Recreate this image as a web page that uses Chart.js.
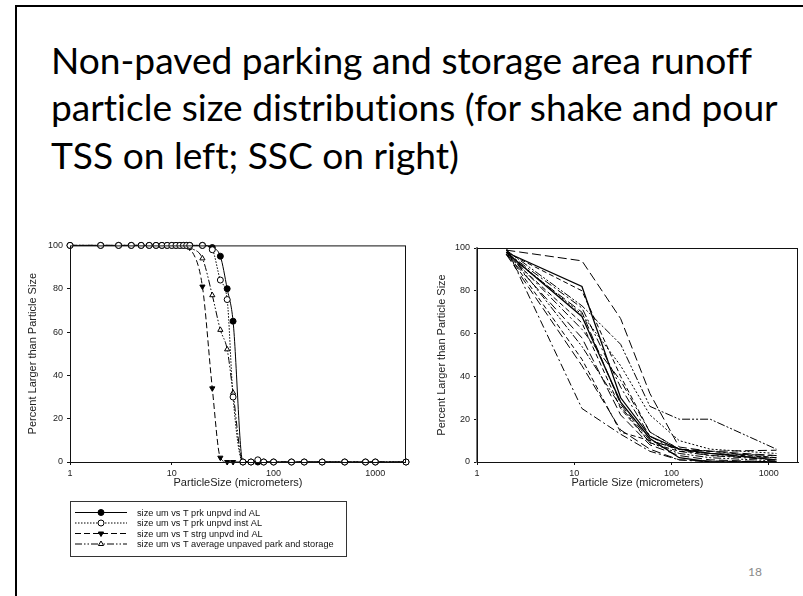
<!DOCTYPE html>
<html>
<head>
<meta charset="utf-8">
<script src="https://cdn.jsdelivr.net/npm/chart.js@4.4.0/dist/chart.umd.min.js"></script>
<style>
  html, body { margin: 0; padding: 0; background: #fff; }
  body { width: 803px; height: 596px; position: relative; overflow: hidden; }
  #frame { position: absolute; left: 15px; top: 5px; width: 800px; height: 600px;
           border-left: 2px solid #000; border-top: 2px solid #000; }
  .tl { position: absolute; left: 51px; white-space: nowrap; color: #000;
        font-family: Lato, "Open Sans", sans-serif; line-height: 1.2;
        font-variant-ligatures: none; }
  #leftWrap { position: absolute; left: 20px; top: 236px; width: 392px; height: 324px; }
  #rightWrap { position: absolute; left: 430px; top: 236px; width: 373px; height: 258px; }
  #slideNum { position: absolute; left: 748px; top: 565px; font-family: Lato, sans-serif;
              font-size: 12px; line-height: 1.2; color: #8a8a8a; }
</style>
</head>
<body>
<div id="frame"></div>
<div id="title"></div>
<div id="leftWrap"><canvas id="chartLeft"></canvas></div>
<div id="rightWrap"><canvas id="chartRight"></canvas></div>
<div id="slideNum">18</div>
<script>
  const titleLines = [
    "Non-paved parking and storage area runoff",
    "particle size distributions (for shake and pour",
    "TSS on left; SSC on right)",
  ];

  // left chart: TSS (shake and pour)
  const leftSizes = [1, 2, 3, 4, 5, 6, 7, 8, 9, 10, 11, 12, 13, 14, 15, 20, 25, 30, 35, 40,
    50, 60, 70, 80, 100, 150, 200, 300, 500, 800, 1000, 2000];
  const prkIndAL = [100, 100, 100, 100, 100, 100, 100, 100, 100, 100, 100, 100, 100, 100, 100, 100,
    99, 95, 80, 65, 0, 0, 0, 0, 0, 0, 0, 0, 0, 0, 0, 0];
  const prkInstAL = [100, 100, 100, 100, 100, 100, 100, 100, 100, 100, 100, 100, 100, 100, 100, 100,
    98, 84, 75, 30, 0, 0, 1, 0, 0, 0, 0, 0, 0, 0, 0, 0];
  const strgIndAL = [100, 100, 100, 100, 100, 100, 100, 100, 100, 100, 100, 100, 100, 100, 99, 81,
    34, 2, 0, 0, 0, 0, 0, 0, 0, 0, 0, 0, 0, 0, 0, 0];
  const avgUnpaved = [100, 100, 100, 100, 100, 100, 100, 100, 100, 100, 100, 100, 100, 100, 99, 94,
    77, 61, 52, 32, 0, 0, 0, 0, 0, 0, 0, 0, 0, 0, 0, 0];
  const leftLabels = [
    "size um vs T prk unpvd ind AL",
    "size um vs T prk unpvd inst AL",
    "size um vs T strg unpvd ind AL",
    "size um vs T average unpaved park and storage",
  ];

  // right chart: SSC
  const rightSizes = [2, 12, 30, 60, 120, 250, 1200];
  const ssc01 = [99, 94, 67, 32, 7, 5, 3];
  const ssc02 = [98, 82, 30, 12, 6, 4, 1];
  const ssc03 = [98, 80, 40, 14, 6, 5, 2];
  const ssc04 = [99, 73, 55, 26, 20, 20, 6];
  const ssc05 = [98, 72, 35, 12, 5, 3, 2];
  const ssc06 = [97, 70, 27, 10, 6, 5, 5.5];
  const ssc07 = [98, 69, 45, 22, 10, 6, 4];
  const ssc08 = [98, 68, 28, 11, 2, 0, 0];
  const ssc09 = [97, 65, 25, 9, 5, 4, 3];
  const ssc10 = [98, 62, 38, 14, 6, 3, 1];
  const ssc11 = [97, 58, 22, 8, 3, 1, 0];
  const ssc12 = [99, 54, 26, 9, 4, 2, 0.5];
  const ssc13 = [98, 48, 14, 10, 6, 4, 2];
  const ssc14 = [97, 45, 15, 6, 1, 0.5, 0];
  const ssc15 = [100, 25, 13, 5, 1, 0, 0];

  const decades = [1, 10, 100, 1000];
  const yTicks = [0, 20, 40, 60, 80, 100];

  // title, sized so the second line fills the same width as on the slide
  const mctx = document.createElement("canvas").getContext("2d");
  mctx.font = "100px Lato";
  const titleSize = (100 * 729) / mctx.measureText(titleLines[1]).width;
  titleLines.forEach((t, i) => {
    const d = document.createElement("div");
    d.className = "tl";
    d.textContent = t;
    d.style.fontSize = titleSize + "px";
    d.style.top = (78 + i * 47.5 - 1.087 * titleSize) + "px";
    document.getElementById("title").appendChild(d);
  });

  const tickFont = { family: "'Liberation Sans', Arial, sans-serif", size: 9 };
  const titleFont = { family: "'Liberation Sans', Arial, sans-serif", size: 11 };

  const boxFrame = {
    id: "boxFrame",
    afterDraw(chart) {
      const { ctx, chartArea: a } = chart;
      ctx.save();
      ctx.strokeStyle = "#111";
      ctx.lineWidth = 1;
      ctx.strokeRect(a.left + 0.5, a.top + 0.5, a.right - a.left - 1, a.bottom - a.top);
      ctx.restore();
    },
  };

  const legendBox = {
    id: "legendBox",
    afterDraw(chart) {
      const { ctx, chartArea: a } = chart;
      const x0 = a.left, y0 = a.bottom + 39;
      ctx.save();
      ctx.strokeStyle = "#333";
      ctx.lineWidth = 1;
      ctx.strokeRect(x0 + 0.5, y0 + 0.5, 276, 55);
      ctx.font = "9.2px 'Liberation Sans', Arial, sans-serif";
      ctx.textBaseline = "middle";
      chart.data.datasets.forEach((ds, i) => {
        const y = y0 + 11.5 + i * 10.5;
        ctx.strokeStyle = "#000";
        ctx.setLineDash(ds.borderDash || []);
        ctx.beginPath();
        ctx.moveTo(x0 + 5, y);
        ctx.lineTo(x0 + 57, y);
        ctx.stroke();
        ctx.setLineDash([]);
        ctx.fillStyle = ds.pointBackgroundColor;
        Chart.helpers.drawPoint(ctx, {
          pointStyle: ds.pointStyle, radius: 3, rotation: ds.pointRotation || 0, borderWidth: 1,
        }, x0 + 31, y);
        ctx.fillStyle = "#111";
        ctx.fillText(ds.label, x0 + 67, y + 0.5);
      });
      ctx.restore();
    },
  };

  function logAxis(titleText, h) {
    return {
      type: "logarithmic",
      min: 1,
      max: 2000,
      afterBuildTicks: (s) => { s.ticks = decades.map((v) => ({ value: v })); },
      afterFit: (s) => { s.height = h; },
      ticks: { callback: (v) => String(v), font: tickFont, color: "#222", padding: 3,
               maxRotation: 0, autoSkip: false },
      grid: { drawOnChartArea: false, tickLength: 3, color: "#111" },
      border: { color: "#111" },
      title: { display: true, text: titleText, font: titleFont, color: "#222",
               padding: { top: 0, bottom: 4 } },
    };
  }

  function pctAxis(w, pad, borderColor, borderWidth) {
    return {
      min: 0,
      max: 100,
      afterBuildTicks: (s) => { s.ticks = yTicks.map((v) => ({ value: v })); },
      afterFit: (s) => { s.width = w; },
      ticks: { font: tickFont, color: "#222", padding: 4 },
      grid: { drawOnChartArea: false, tickLength: 3, color: "#111" },
      border: { color: borderColor, width: borderWidth },
      title: { display: true, text: "Percent Larger than Particle Size", font: titleFont,
               color: "#222", padding: { top: pad, bottom: 0 } },
    };
  }

  const toXY = (xs, ys) => xs.map((x, i) => ({ x: x, y: ys[i] }));

  // open markers are drawn on top of the filled ones
  const leftSeries = [
    { values: prkIndAL, dash: [], style: "circle", fill: "#000", rot: 0, order: 3 },
    { values: prkInstAL, dash: [1.5, 1.5], style: "circle", fill: "#fff", rot: 0, order: 0 },
    { values: strgIndAL, dash: [6, 3], style: "triangle", fill: "#000", rot: 180, order: 2 },
    { values: avgUnpaved, dash: [7, 2, 1.5, 2, 1.5, 2], style: "triangle", fill: "#fff", rot: 0, order: 1 },
  ];

  new Chart(document.getElementById("chartLeft"), {
    type: "line",
    data: {
      datasets: leftSeries.map((s, i) => ({
        label: leftLabels[i],
        data: toXY(leftSizes, s.values),
        order: s.order,
        borderColor: "#000",
        borderWidth: 1,
        borderDash: s.dash,
        cubicInterpolationMode: "monotone",
        pointStyle: s.style,
        pointRotation: s.rot,
        pointRadius: 3,
        pointBorderWidth: 1,
        pointBorderColor: "#000",
        pointBackgroundColor: s.fill,
        clip: false,
      })),
    },
    options: {
      responsive: true,
      maintainAspectRatio: false,
      animation: false,
      layout: { padding: { top: 7, right: 6, bottom: 66, left: 0 } },
      plugins: { legend: { display: false }, tooltip: { enabled: false } },
      scales: {
        x: logAxis("ParticleSize (micrometers)", 32),
        y: pctAxis(50, 6, "#111", 1),
      },
    },
    plugins: [boxFrame, legendBox],
  });

  const rightSeries = [ssc01, ssc02, ssc03, ssc04, ssc05, ssc06, ssc07, ssc08, ssc09, ssc10,
    ssc11, ssc12, ssc13, ssc14, ssc15];
  const dashes = [
    [9, 4], [], [5, 3], [8, 2, 2, 2, 2, 2], [8, 3, 2, 3],
    [9, 4], [2, 2], [], [5, 3], [8, 3, 2, 3],
    [9, 4], [8, 2, 2, 2, 2, 2], [5, 3], [9, 4], [8, 3, 2, 3],
  ];

  new Chart(document.getElementById("chartRight"), {
    type: "line",
    data: {
      datasets: rightSeries.map((vals, i) => ({
        label: "SSC " + (i + 1),
        data: toXY(rightSizes, vals),
        borderColor: "#000",
        borderWidth: i === 1 || i === 7 ? 1.3 : 1,
        borderDash: dashes[i],
        pointRadius: 0,
        tension: 0,
      })),
    },
    options: {
      responsive: true,
      maintainAspectRatio: false,
      animation: false,
      layout: { padding: { top: 12, right: 5, bottom: 0, left: 0 } },
      plugins: { legend: { display: false }, tooltip: { enabled: false } },
      scales: {
        x: logAxis("Particle Size (micrometers)", 32),
        y: pctAxis(47, 5, "#777", 2),
      },
    },
    plugins: [boxFrame],
  });
</script>
</body>
</html>
